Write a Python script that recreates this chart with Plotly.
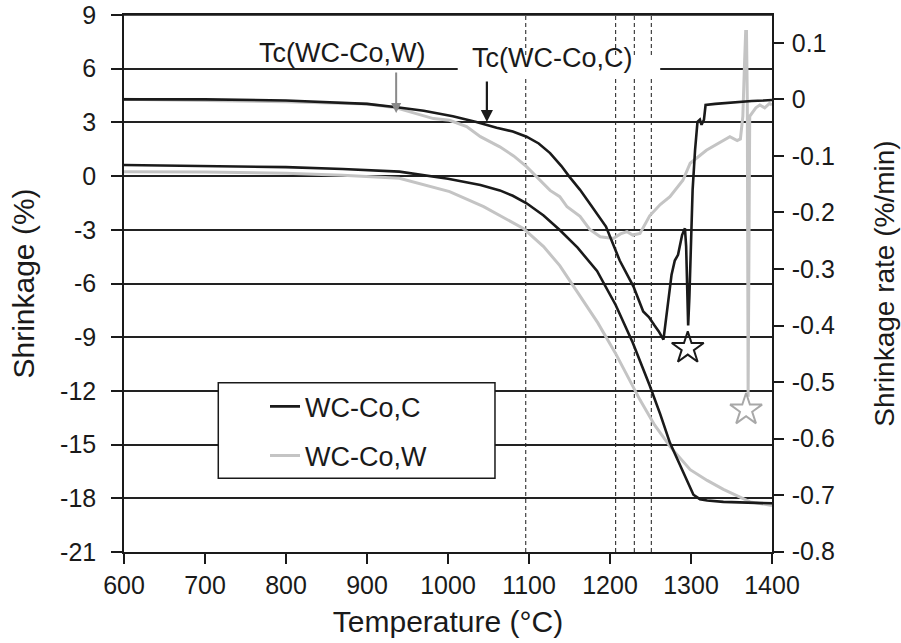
import plotly.graph_objects as go

# ---------------- data ----------------
# Shrinkage (%) - left axis
shr_c_T = [600, 700, 800, 870, 940, 1000, 1040, 1064, 1080, 1097, 1118, 1138, 1160, 1184,
           1207, 1228, 1249, 1262, 1274, 1285, 1295, 1303, 1311, 1320, 1340, 1370, 1400]
shr_c_v = [0.62, 0.58, 0.50, 0.40, 0.25, -0.15, -0.50, -0.80, -1.10, -1.52, -2.20, -3.01,
           -4.00, -5.30, -7.20, -9.30, -11.70, -13.30, -14.90, -16.00, -16.98, -17.80,
           -18.05, -18.12, -18.20, -18.25, -18.28]

shr_w_T = [600, 700, 800, 870, 940, 1002, 1044, 1093, 1118, 1138, 1160, 1185, 1208, 1237,
           1255, 1274, 1299, 1320, 1340, 1373, 1400]
shr_w_v = [0.25, 0.23, 0.16, 0.05, -0.12, -0.87, -1.71, -2.92, -3.94, -5.00, -6.50, -8.20,
           -10.00, -12.50, -13.90, -15.10, -16.40, -17.00, -17.50, -18.20, -18.40]

# Shrinkage rate (%/min) - right axis
rate_c_T = [600, 700, 800, 900, 937, 970, 1006, 1035, 1060, 1080, 1097, 1112, 1126, 1140,
            1150, 1163, 1175, 1195, 1212, 1229, 1241, 1248, 1255, 1260, 1266, 1271, 1276,
            1280, 1284, 1289, 1292.5, 1294, 1296.5, 1298, 1300, 1302, 1305, 1308, 1311,
            1313, 1316, 1318, 1330, 1345, 1360, 1375, 1390, 1400]
rate_c_v = [0.0, 0.0, -0.002, -0.008, -0.014, -0.020, -0.030, -0.040, -0.050, -0.057,
            -0.066, -0.078, -0.095, -0.118, -0.137, -0.160, -0.184, -0.225, -0.285, -0.331,
            -0.375, -0.385, -0.400, -0.410, -0.425, -0.370, -0.310, -0.285, -0.275, -0.240,
            -0.228, -0.260, -0.400, -0.350, -0.250, -0.160, -0.090, -0.040, -0.036, -0.045,
            -0.036, -0.010, -0.008, -0.006, -0.004, -0.003, -0.002, -0.001]

rate_w_T = [600, 700, 800, 900, 936, 982, 1002, 1023, 1040, 1064, 1081, 1097, 1112, 1126,
            1138, 1147, 1163, 1175, 1188, 1204, 1213, 1221, 1228, 1237, 1249, 1262, 1274,
            1290, 1299, 1319, 1348, 1357, 1361, 1364, 1366, 1367.5, 1368.5, 1369.5, 1370.5,
            1371.5, 1372.5, 1380, 1385, 1391, 1397, 1400]
rate_w_v = [0.0, -0.002, -0.004, -0.008, -0.015, -0.034, -0.037, -0.048, -0.066, -0.084,
            -0.100, -0.119, -0.140, -0.161, -0.172, -0.190, -0.207, -0.230, -0.243, -0.246,
            -0.238, -0.234, -0.240, -0.237, -0.206, -0.186, -0.172, -0.143, -0.113, -0.090,
            -0.066, -0.073, -0.070, -0.030, 0.060, 0.120, 0.120, 0.000, -0.526, -0.250,
            -0.030, -0.015, -0.010, -0.015, -0.007, -0.010]

# marked minima (stars)
star_c = (1296, -0.44)
star_w = (1368, -0.549)

# characteristic temperatures (dashed lines)
dash_T = [1096, 1207, 1230, 1251]

# Tc markers
tc_w = (936, -0.024)
tc_c = (1048, -0.040)

# ticks
x_ticks = [600, 700, 800, 900, 1000, 1100, 1200, 1300, 1400]
y_ticks = [9, 6, 3, 0, -3, -6, -9, -12, -15, -18, -21]
y_ticktext = ["9", "6", "3", "0", "-3", "-6", "-9", "-12", "-15", "-18", "-21"]
y2_ticks = [0.1, 0.0, -0.1, -0.2, -0.3, -0.4, -0.5, -0.6, -0.7, -0.8]
y2_ticktext = ["0.1", "0", "-0.1", "-0.2", "-0.3", "-0.4", "-0.5", "-0.6", "-0.7", "-0.8"]

BLACK = "#1a1a1a"
GRAY = "#c4c4c4"
FONT = "Liberation Sans, Arial, sans-serif"

fig = go.Figure()

# gray series first (black drawn on top)
fig.add_trace(go.Scatter(x=shr_w_T, y=shr_w_v, mode="lines", name="WC-Co,W",
                         line=dict(color=GRAY, width=3), legendgroup="w", legendrank=2))
fig.add_trace(go.Scatter(x=rate_w_T, y=rate_w_v, mode="lines", yaxis="y2", showlegend=False,
                         line=dict(color=GRAY, width=3)))
fig.add_trace(go.Scatter(x=shr_c_T, y=shr_c_v, mode="lines", name="WC-Co,C",
                         line=dict(color=BLACK, width=2.6), legendgroup="c", legendrank=1))
fig.add_trace(go.Scatter(x=rate_c_T, y=rate_c_v, mode="lines", yaxis="y2", showlegend=False,
                         line=dict(color=BLACK, width=2.6)))
fig.add_trace(go.Scatter(x=[star_c[0]], y=[star_c[1]], mode="markers", yaxis="y2",
                         showlegend=False,
                         marker=dict(symbol="star-open", size=24, color=BLACK,
                                     line=dict(width=2, color=BLACK))))
fig.add_trace(go.Scatter(x=[star_w[0]], y=[star_w[1]], mode="markers", yaxis="y2",
                         showlegend=False,
                         marker=dict(symbol="star-open", size=24, color="#a8a8a8",
                                     line=dict(width=2, color="#a8a8a8"))))

shapes = []
# white box behind the Tc(WC-Co,C) label (hides the gridline)
shapes.append(dict(type="rect", xref="x", yref="y", x0=1012, x1=1262, y0=5.5, y1=6.6,
                   fillcolor="white", line=dict(width=0), layer="between"))
# legend frame
shapes.append(dict(type="rect", xref="x", yref="y", x0=716.4, x1=1058, y0=-16.88, y1=-11.54,
                   fillcolor="white", line=dict(color=BLACK, width=1.5), layer="between"))
# dashed vertical lines
for t in dash_T:
    shapes.append(dict(type="line", xref="x", yref="paper", x0=t, x1=t, y0=0, y1=1,
                       line=dict(color=BLACK, width=1, dash="4px,3px"), layer="between"))
# top frame line (gridline at 9)
shapes.append(dict(type="line", xref="x", yref="y", x0=600, x1=1400, y0=9, y1=9,
                   line=dict(color=BLACK, width=1.6), layer="above"))

annotations = [
    dict(x=869, y=6.9, xref="x", yref="y", text="Tc(WC-Co,W)", showarrow=False,
         font=dict(size=27, color=BLACK, family=FONT)),
    dict(x=1128, y=6.6, xref="x", yref="y", text="Tc(WC-Co,C)", showarrow=False,
         font=dict(size=27, color=BLACK, family=FONT)),
    dict(x=tc_w[0], y=tc_w[1], xref="x", yref="y2", text="", showarrow=True, ax=0, ay=-42,
         arrowhead=2, arrowsize=1, arrowwidth=2, arrowcolor="#8a8a8a"),
    dict(x=tc_c[0], y=tc_c[1], xref="x", yref="y2", text="", showarrow=True, ax=0, ay=-42,
         arrowhead=2, arrowsize=1.1, arrowwidth=2.2, arrowcolor=BLACK),
]

fig.update_layout(
    width=901, height=643,
    margin=dict(l=124, r=129, t=15, b=91),
    paper_bgcolor="white", plot_bgcolor="white",
    font=dict(family=FONT, size=25, color=BLACK),
    shapes=shapes, annotations=annotations,
    showlegend=True,
    legend=dict(x=0.2176, y=0.316, xanchor="left", yanchor="top",
                bgcolor="rgba(0,0,0,0)", borderwidth=0, tracegroupgap=11,
                traceorder="grouped",
                font=dict(size=27, family=FONT, color=BLACK)),
    xaxis=dict(range=[600, 1400], tickvals=x_ticks, ticks="outside", ticklen=10,
               tickwidth=1.5, tickcolor=BLACK, showline=True, linecolor=BLACK, linewidth=1.5,
               mirror=True, showgrid=False, zeroline=False, automargin=False,
               title=dict(text="Temperature (°C)", font=dict(size=30), standoff=13),
               tickfont=dict(size=25)),
    yaxis=dict(range=[-21, 9], tickvals=y_ticks, ticktext=y_ticktext, ticks="outside",
               ticklen=11, tickwidth=1.5, tickcolor=BLACK, showline=True, linecolor=BLACK,
               linewidth=1.5, showgrid=True, gridcolor="#222222", gridwidth=1.5,
               zeroline=False, automargin=False, ticklabelstandoff=10,
               title=dict(text="Shrinkage (%)", font=dict(size=30), standoff=17),
               tickfont=dict(size=25)),
    yaxis2=dict(range=[-0.8005, 0.1492], overlaying="y", side="right", tickvals=y2_ticks,
                ticktext=y2_ticktext, ticks="outside", ticklen=10, tickwidth=1.5,
                tickcolor=BLACK, showline=True, linecolor=BLACK, linewidth=1.5,
                showgrid=False, zeroline=False, automargin=False, ticklabelstandoff=3,
                title=dict(text="Shrinkage rate (%/min)", font=dict(size=28), standoff=40),
                tickfont=dict(size=25)),
)

# remove the page's default 8px body margin so the figure fills the window exactly
fig.write_html("out.html", config={"displayModeBar": False},
               post_script="document.body.style.margin='0px';")
